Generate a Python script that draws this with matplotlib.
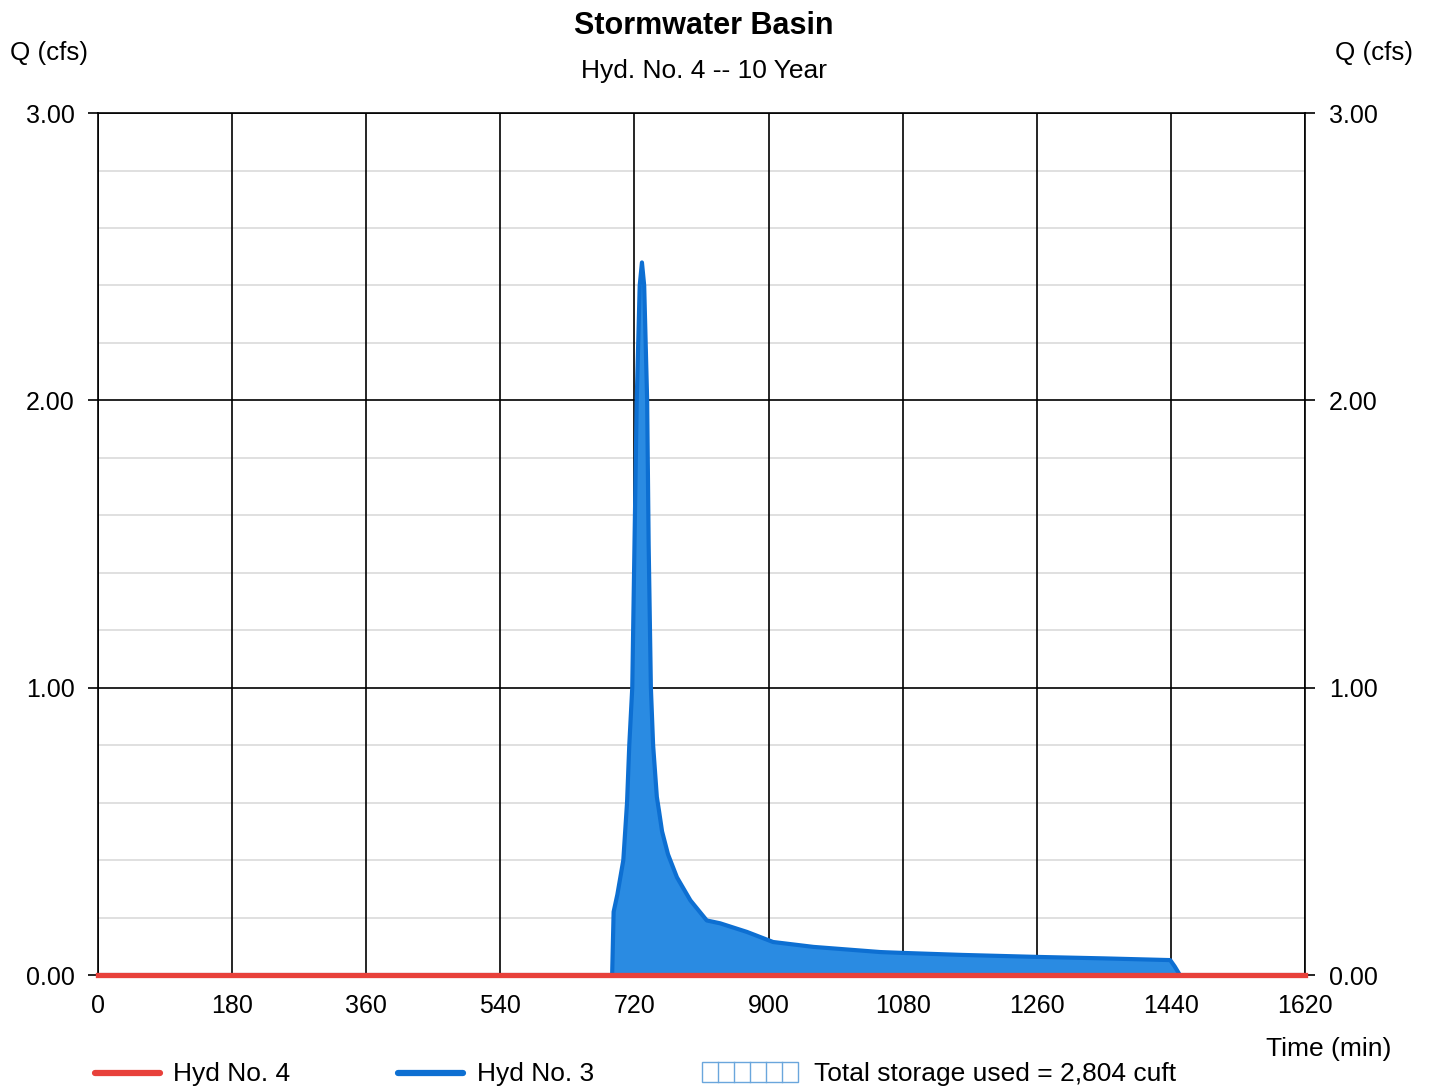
import matplotlib.pyplot as plt
from matplotlib.lines import Line2D
from matplotlib.patches import Rectangle

plt.rcParams['font.family'] = ['Liberation Sans', 'DejaVu Sans']

# Inflow hydrograph (Hyd No. 3), time in min, flow in cfs
hyd3_time = [0, 690, 692, 697, 705, 710, 713, 717, 720, 723, 727, 730, 733,
             737, 739, 742, 745, 750, 753, 757, 765, 777, 795, 817, 835, 871,
             906, 960, 1050, 1080, 1160, 1262, 1350, 1439, 1445, 1452, 1620]
hyd3_q = [0.0, 0.0, 0.22, 0.28, 0.40, 0.60, 0.80, 1.00, 1.50, 2.00, 2.40,
          2.48, 2.40, 2.00, 1.50, 1.00, 0.80, 0.62, 0.57, 0.50, 0.42, 0.34,
          0.26, 0.19, 0.18, 0.15, 0.115, 0.098, 0.08, 0.077, 0.07, 0.063,
          0.058, 0.052, 0.03, 0.0, 0.0]

# Outflow hydrograph (Hyd No. 4)
hyd4_time = [0, 1620]
hyd4_q = [0.0, 0.0]

x_ticks = [0, 180, 360, 540, 720, 900, 1080, 1260, 1440, 1620]
y_ticks = [0.0, 1.0, 2.0, 3.0]
y_minor = [0.2, 0.4, 0.6, 0.8, 1.2, 1.4, 1.6, 1.8, 2.2, 2.4, 2.6, 2.8]

fig = plt.figure(figsize=(14.31, 10.87), dpi=100)
ax = fig.add_axes([0.0685, 0.103, 0.8435, 0.793])

ax.set_xlim(0, 1620)
ax.set_ylim(0, 3)

# grid: light minor lines, black major lines
for y in y_minor:
    ax.axhline(y, color='#dadada', lw=1.2, zorder=0)
for y in y_ticks:
    ax.axhline(y, color='black', lw=1.2, zorder=0.5)
for x in x_ticks:
    ax.axvline(x, color='black', lw=1.2, zorder=0.5)

ax.fill_between(hyd3_time, hyd3_q, color='#2a8be2', zorder=2)
ax.plot(hyd3_time, hyd3_q, color='#0d6fd2', lw=3.0, zorder=3,
        solid_joinstyle='round', solid_capstyle='round')
ax.plot(hyd4_time, hyd4_q, color='#e8413b', lw=3.8, zorder=4, clip_on=False)

for s in ax.spines.values():
    s.set_color('black')
    s.set_linewidth(1.2)

ax.set_xticks(x_ticks)
ax.set_xticklabels([str(x) for x in x_ticks])
ax.set_yticks(y_ticks)
ax.set_yticklabels(['%.2f' % y for y in y_ticks])
ax.tick_params(axis='x', length=0, pad=14, labelsize=18)
ax.tick_params(axis='y', length=7, width=1.2, pad=10, labelsize=18,
               right=True, labelright=True)
for t in ax.yaxis.get_major_ticks():
    t.label2.set_horizontalalignment('left')

fig.text(0.492, 0.976, 'Stormwater Basin', ha='center', va='center',
         fontsize=22, fontweight='bold')
fig.text(0.492, 0.935, 'Hyd. No. 4 -- 10 Year', ha='center', va='center',
         fontsize=19)
fig.text(0.007, 0.951, 'Q (cfs)', ha='left', va='center', fontsize=18.7)
fig.text(0.933, 0.951, 'Q (cfs)', ha='left', va='center', fontsize=18.7)
fig.text(0.885, 0.035, 'Time (min)', ha='left', va='center', fontsize=19)

# legend row along the bottom
ly = 1 - 1073 / 1087
fig.add_artist(Line2D([95 / 1431, 160 / 1431], [ly, ly], color='#e8413b',
                      lw=4.5, solid_capstyle='round'))
fig.text(173 / 1431, ly - 0.001, 'Hyd No. 4', ha='left', va='center',
         fontsize=19)
fig.add_artist(Line2D([398 / 1431, 463 / 1431], [ly, ly], color='#0d6fd2',
                      lw=4.5, solid_capstyle='round'))
fig.text(477 / 1431, ly - 0.001, 'Hyd No. 3', ha='left', va='center',
         fontsize=19)
box_l, box_r = 702 / 1431, 798 / 1431
box_b, box_t = 1 - 1082 / 1087, 1 - 1062 / 1087
fig.add_artist(Rectangle((box_l, box_b), box_r - box_l, box_t - box_b,
                         transform=fig.transFigure, facecolor='none',
                         edgecolor='#6aa6dc', lw=1.0))
for i in range(1, 6):
    xx = box_l + (box_r - box_l) * i / 6
    fig.add_artist(Line2D([xx, xx], [box_b, box_t], color='#6aa6dc', lw=1.0))
fig.text(814 / 1431, ly - 0.001, 'Total storage used = 2,804 cuft',
         ha='left', va='center', fontsize=19)

fig.savefig('out.png', dpi=100)
